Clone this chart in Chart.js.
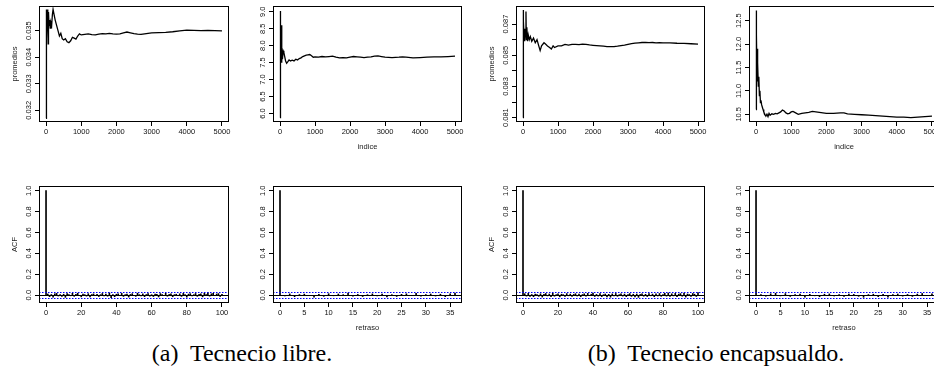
<!DOCTYPE html>
<html>
<head>
<meta charset="utf-8">
<script src="https://cdn.jsdelivr.net/npm/chart.js@4"></script>
<style>
  html, body { margin: 0; padding: 0; background: #fff; }
  body { width: 934px; height: 381px; overflow: hidden; position: relative; }
  .panel { position: absolute; }
  .cap { position: absolute; top: 339px; width: 320px; text-align: center; white-space: pre;
         font-family: "Liberation Serif", "DejaVu Serif", serif; font-size: 24px; line-height: 28px; color: #000; }
</style>
</head>
<body>
<canvas class="panel" id="p1" width="224" height="149" style="left:9px;top:2px"></canvas>
<canvas class="panel" id="p2" width="223" height="149" style="left:243px;top:2px"></canvas>
<canvas class="panel" id="p3" width="223" height="149" style="left:486px;top:2px"></canvas>
<canvas class="panel" id="p4" width="224" height="149" style="left:719px;top:2px"></canvas>
<canvas class="panel" id="a1" width="224" height="150" style="left:9px;top:182px"></canvas>
<canvas class="panel" id="a2" width="223" height="150" style="left:243px;top:182px"></canvas>
<canvas class="panel" id="a3" width="223" height="150" style="left:486px;top:182px"></canvas>
<canvas class="panel" id="a4" width="224" height="150" style="left:719px;top:182px"></canvas>
<div class="cap" style="left:82px">(a)  Tecnecio libre.</div>
<div class="cap" style="left:556px">(b)  Tecnecio encapsualdo.</div>

<script>
// Promedios acumulados (fila superior)
const idx1 = [1,2,5,8,12,18,25,35,50,60,70,85,100,120,140,160,180,200,230,260,300,340,380,420,460,500,550,600,650,700,750,800,850,900,950,1000,1100,1200,1300,1400,1500,1600,1700,1800,1900,2000,2100,2200,2300,2400,2500,2600,2700,2800,2900,3000,3200,3400,3600,3800,4000,4200,4400,4600,4800,5000];
const prom1 = [0.0317,0.0358,0.0336,0.0357,0.0329,0.0356,0.0347,0.0358,0.0355,0.0345,0.0357,0.0352,0.0354,0.0351,0.0353,0.0352,0.0356,0.0358,0.0356,0.0354,0.0352,0.0350,0.0348,0.0349,0.0347,0.03465,0.0347,0.03458,0.03455,0.03462,0.03475,0.03472,0.03468,0.0348,0.03488,0.03484,0.03486,0.03488,0.03485,0.03484,0.03487,0.03489,0.03488,0.0349,0.03488,0.03487,0.03488,0.03492,0.03495,0.03492,0.03489,0.03487,0.03486,0.03488,0.0349,0.03492,0.03493,0.03494,0.03496,0.03499,0.03502,0.03501,0.035,0.03501,0.035,0.03499];

const idx2 = [1,3,6,10,15,20,28,35,45,55,70,90,110,130,160,190,220,260,300,350,400,450,500,550,600,650,700,750,800,850,900,950,1000,1100,1200,1300,1400,1500,1600,1700,1800,1900,2000,2100,2200,2300,2400,2500,2600,2700,2800,2900,3000,3200,3400,3500,3600,3800,4000,4200,4400,4600,4800,5000];
const prom2 = [5.88,8.5,7.3,9.0,7.4,9.02,8.2,8.6,7.5,7.9,7.6,7.85,7.8,7.7,7.55,7.48,7.52,7.58,7.55,7.57,7.55,7.6,7.58,7.62,7.64,7.68,7.7,7.72,7.73,7.74,7.7,7.66,7.67,7.66,7.68,7.67,7.68,7.69,7.66,7.64,7.65,7.64,7.66,7.68,7.67,7.66,7.65,7.66,7.67,7.69,7.7,7.68,7.66,7.65,7.66,7.67,7.66,7.64,7.65,7.66,7.67,7.67,7.68,7.69];

const idx3 = [1,3,6,10,15,22,30,40,55,70,85,95,110,130,150,180,210,250,300,350,400,450,490,530,600,650,700,760,810,860,900,1000,1100,1200,1300,1400,1500,1600,1700,1800,1900,2000,2100,2200,2300,2400,2500,2600,2700,2800,2900,3000,3100,3200,3300,3400,3500,3600,3700,3800,3900,4000,4200,4400,4600,4800,5000];
const prom3 = [0.0810,0.0879,0.0858,0.0878,0.0860,0.0872,0.0862,0.0867,0.0859,0.0866,0.0878,0.0860,0.0868,0.0859,0.0863,0.0860,0.0862,0.0859,0.0861,0.0858,0.0860,0.0856,0.0853,0.0856,0.0858,0.0857,0.0856,0.0855,0.0854,0.0856,0.0855,0.0856,0.0856,0.0857,0.08565,0.0857,0.0857,0.08568,0.08572,0.0857,0.08566,0.08564,0.08562,0.0856,0.08558,0.08556,0.08555,0.08556,0.08558,0.08562,0.08565,0.0857,0.08575,0.08578,0.0858,0.08582,0.08583,0.08581,0.08582,0.0858,0.08581,0.0858,0.08579,0.08577,0.08576,0.08574,0.08572];

const idx4 = [1,3,6,10,15,20,28,35,45,55,65,80,95,110,125,140,160,180,200,220,250,280,310,340,370,400,450,500,550,600,650,700,750,800,850,900,950,1000,1050,1100,1200,1300,1400,1500,1600,1700,1800,1900,2000,2200,2400,2500,2600,2800,3000,3200,3400,3600,3800,4000,4200,4400,4600,4800,5000];
const prom4 = [10.6,12.72,11.2,12.6,11.5,12.2,11.3,11.9,11.2,11.6,11.1,11.3,10.9,11.0,10.75,10.8,10.7,10.65,10.6,10.55,10.5,10.46,10.5,10.45,10.52,10.48,10.51,10.5,10.52,10.51,10.53,10.55,10.59,10.57,10.53,10.51,10.52,10.55,10.56,10.54,10.5,10.52,10.53,10.54,10.56,10.55,10.54,10.53,10.52,10.52,10.53,10.53,10.51,10.5,10.49,10.48,10.47,10.46,10.45,10.44,10.44,10.43,10.44,10.45,10.46];

// Autocorrelaciones (fila inferior), desde el retraso 0
const acf1 = [1,0.011,-0.014,0.006,-0.019,0.013,0.017,-0.008,0.004,-0.012,
  0.009,-0.021,0.015,0.002,-0.006,0.018,-0.011,0.007,0.019,-0.004,
  -0.016,0.010,0.003,-0.009,0.014,-0.017,0.006,0.012,-0.003,0.008,
  -0.013,0.005,0.016,-0.007,0.011,-0.010,0.022,-0.024,0.004,-0.015,
  0.009,0.013,-0.006,0.017,-0.012,0.003,0.010,-0.018,0.007,0.014,
  -0.005,-0.011,0.019,0.002,-0.008,0.012,-0.014,0.006,0.016,-0.009,
  0.004,-0.013,0.011,0.008,-0.017,0.015,0.003,-0.006,0.018,-0.010,
  0.007,0.012,-0.015,0.005,0.009,-0.004,0.013,-0.012,0.017,0.006,
  -0.019,0.010,0.014,-0.007,0.003,0.016,-0.011,0.008,0.012,-0.016,
  0.020,0.005,0.024,-0.009,0.013,0.018,-0.006,0.011,0.015,-0.013,
  0.009];
const acf2 = [1,-0.008,0.012,-0.015,0.006,0.010,-0.004,-0.018,0.009,-0.011,0.014,-0.006,0.011,0.003,0.019,-0.009,0.007,-0.013,0.005,0.012,-0.007,0.010,-0.016,0.004,-0.012,0.008,0.013,-0.005,0.017,-0.010,0.006,0.011,-0.008,0.009,-0.014,0.012,0.021];
const acf3 = [1,0.014,-0.009,0.017,-0.012,0.006,-0.015,0.010,0.004,-0.011,
  0.013,-0.018,0.008,0.016,-0.007,0.011,-0.014,0.019,-0.010,0.005,
  0.012,-0.016,0.009,0.003,-0.013,0.015,-0.006,0.010,-0.012,0.007,
  0.014,-0.008,0.011,-0.015,0.006,0.013,-0.010,0.017,-0.005,0.009,
  0.020,-0.012,0.007,-0.009,0.015,-0.014,0.004,0.011,-0.017,0.008,
  -0.019,0.012,-0.007,0.016,-0.011,0.005,0.013,-0.009,0.010,-0.014,
  0.006,0.015,-0.012,0.009,-0.016,0.011,-0.021,0.007,0.013,-0.010,
  0.008,-0.013,0.014,-0.006,0.010,-0.015,0.012,-0.008,0.016,-0.011,
  0.005,0.018,-0.009,0.021,-0.012,0.013,-0.007,0.017,-0.014,0.010,
  0.015,-0.010,0.019,-0.018,0.011,0.006,-0.013,0.016,0.009,-0.012,
  0.024];
const acf4 = [1,0.006,-0.010,0.013,0.018,-0.007,0.015,-0.012,0.004,0.011,-0.019,0.008,-0.006,-0.015,0.009,0.012,-0.008,0.005,-0.013,0.010,0.007,-0.011,-0.020,0.006,0.009,-0.014,0.008,-0.018,0.005,0.011,-0.009,0.007,-0.012,0.010,0.016,-0.006,0.013];
const bandaAcf = 0.0277;

// Marcas de los ejes
const xTicksIdx = [0,1000,2000,3000,4000,5000];
const xTicksLag100 = [0,20,40,60,80,100];
const xTicksLag36 = [0,5,10,15,20,25,30,35];
const yTicks1 = [0.032,0.033,0.034,0.035];
const yTicks2 = [6.0,6.5,7.0,7.5,8.0,8.5,9.0];
const yTicks3 = [0.081,0.082,0.083,0.084,0.085,0.086,0.087];
const yLabels3 = [0.081,0.083,0.085,0.087];
const yTicks4 = [10.5,11.0,11.5,12.0,12.5];
const yTicksAcf = [0,0.2,0.4,0.6,0.8,1.0];

const FONT = '"Liberation Sans", Arial, sans-serif';
const fuente = { family: FONT, size: 7.5 };

// Caja alrededor del panel, etiquetas del eje y giradas y lineas horizontales (estilo R)
const marcoR = {
  id: 'marcoR',
  afterDatasetsDraw(chart, args, opts) {
    const { ctx, chartArea: a } = chart;
    const sy = chart.scales.y;
    ctx.save();
    (opts.hlines || []).forEach(h => {
      const py = Math.round(sy.getPixelForValue(h.v)) + 0.5;
      ctx.strokeStyle = h.color;
      ctx.lineWidth = 1;
      ctx.setLineDash(h.dash || []);
      ctx.beginPath();
      ctx.moveTo(a.left, py);
      ctx.lineTo(a.right, py);
      ctx.stroke();
    });
    ctx.setLineDash([]);
    ctx.strokeStyle = '#000';
    ctx.lineWidth = 1;
    ctx.strokeRect(a.left + 0.5, a.top + 0.5, a.right - a.left - 1, a.bottom - a.top - 1);
    ctx.fillStyle = '#111';
    ctx.font = '7.5px ' + FONT;
    ctx.textAlign = 'center';
    ctx.textBaseline = 'middle';
    (opts.yLabels || []).forEach(v => {
      ctx.save();
      ctx.translate(a.left - 10, sy.getPixelForValue(v));
      ctx.rotate(-Math.PI / 2);
      ctx.fillText(v.toFixed(opts.dec), 0, 0);
      ctx.restore();
    });
    ctx.restore();
  }
};
Chart.register(marcoR);

function ejes(p) {
  const grid = { drawOnChartArea: false, drawTicks: true, tickLength: 4, color: '#000', lineWidth: 1, offset: false };
  return {
    x: {
      type: 'linear', min: p.xmin, max: p.xmax, offset: false,
      afterBuildTicks: s => { s.ticks = p.xTicks.map(v => ({ value: v })); },
      afterFit: s => { s.height = 29; },
      grid: grid, border: { display: false },
      ticks: { font: fuente, color: '#111', padding: 1.5, maxRotation: 0, autoSkip: false, callback: v => String(v) },
      title: { display: !!p.xTitle, text: p.xTitle, font: fuente, color: '#222', padding: 0 }
    },
    y: {
      type: 'linear', min: p.ymin, max: p.ymax,
      afterBuildTicks: s => { s.ticks = p.yTicks.map(v => ({ value: v })); },
      afterFit: s => { s.width = 30; },
      grid: grid, border: { display: false },
      ticks: { display: false },
      title: { display: !!p.yTitle, text: p.yTitle, font: fuente, color: '#222', padding: { top: 1.5, bottom: 0 } }
    }
  };
}

function comunes(p) {
  return {
    responsive: false, animation: false, events: [],
    layout: { padding: { top: 4, right: 4, left: 0, bottom: 0 } },
    plugins: {
      legend: { display: false }, tooltip: { enabled: false },
      marcoR: { yLabels: p.yLabels || p.yTicks, dec: p.dec, hlines: p.hlines || [] }
    },
    scales: ejes(p)
  };
}

function promedios(id, idx, vals, p) {
  new Chart(document.getElementById(id), {
    type: 'line',
    data: { datasets: [{
      data: idx.map((x, i) => ({ x: x, y: vals[i] })),
      borderColor: '#000', borderWidth: 1.3, pointRadius: 0, tension: 0
    }] },
    options: comunes(Object.assign({ xmin: -200, xmax: 5200, xTicks: xTicksIdx }, p))
  });
}

function autocorr(id, acf, p) {
  const pOpts = Object.assign({
    ymin: -0.075, ymax: 1.045, yTicks: yTicksAcf, dec: 1,
    hlines: [
      { v: 0, color: '#000' },
      { v: bandaAcf, color: '#0000ff', dash: [1.5, 1.5] },
      { v: -bandaAcf, color: '#0000ff', dash: [1.5, 1.5] }
    ]
  }, p);
  new Chart(document.getElementById(id), {
    type: 'bar',
    data: { datasets: [{
      data: acf.map((v, i) => ({ x: i, y: v })),
      backgroundColor: '#000', borderWidth: 0, barThickness: 1
    }] },
    options: comunes(pOpts)
  });
}

promedios('p1', idx1, prom1, { ymin: 0.03156, ymax: 0.03593, yTicks: yTicks1, dec: 3, yTitle: 'promedios' });
promedios('p2', idx2, prom2, { ymin: 5.752, ymax: 9.168, yTicks: yTicks2, dec: 1, xTitle: 'indice' });
promedios('p3', idx3, prom3, { ymin: 0.08072, ymax: 0.08816, yTicks: yTicks3, yLabels: yLabels3, dec: 3, yTitle: 'promedios' });
promedios('p4', idx4, prom4, { ymin: 10.335, ymax: 12.815, yTicks: yTicks4, dec: 1, xTitle: 'indice' });

autocorr('a1', acf1, { xmin: -4, xmax: 104, xTicks: xTicksLag100, yTitle: 'ACF' });
autocorr('a2', acf2, { xmin: -1.44, xmax: 37.44, xTicks: xTicksLag36, xTitle: 'retraso' });
autocorr('a3', acf3, { xmin: -4, xmax: 104, xTicks: xTicksLag100, yTitle: 'ACF' });
autocorr('a4', acf4, { xmin: -1.44, xmax: 37.44, xTicks: xTicksLag36, xTitle: 'retraso' });
</script>
</body>
</html>
